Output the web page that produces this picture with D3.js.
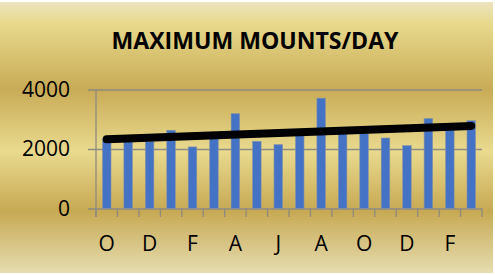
<!DOCTYPE html>
<html lang="en">
  <head>
    <meta charset="utf-8">
    <title>Maximum mounts/day</title>
    <style>
      html, body { margin: 0; padding: 0; background: #fff; }
      svg { display: block; font-family: "Open Sans", sans-serif; }
    </style>
  </head>
  <body>
    <div id="chart"></div>
    <script src="https://d3js.org/d3.v7.min.js"></script>
    <script>
      // data
      var months = ["O", "N", "D", "J", "F", "M", "A", "M", "J", "J", "A", "S", "O", "N", "D", "J", "F", "M"]
      var mounts = [2350, 2300, 2250, 2630, 2070, 2350, 3190, 2260, 2150, 2460, 3710, 2515, 2515, 2370, 2115, 3025, 2700, 2950]
      var yTicks = [0, 2000, 4000]
      var title = "MAXIMUM MOUNTS/DAY"

      var W = 495, H = 275
      var plot = {left: 96, right: 482, top: 89.5, bottom: 208.5}

      var svg = d3.select("#chart")
        .append("svg")
          .attr("width", W)
          .attr("height", H)

      // gold banded background
      var grad = svg.append("defs")
        .append("linearGradient")
          .attr("id", "gold")
          .attr("x1", 0).attr("y1", 0)
          .attr("x2", 0).attr("y2", 1)
      var stops = [
        [0, "#ece4c0"], [0.08, "#e8d98c"], [0.32, "#c8ab56"],
        [0.55, "#e9da8e"], [0.77, "#c7a953"], [1, "#e6dcb0"]
      ]
      stops.forEach(function (s) {
        grad.append("stop").attr("offset", s[0]).attr("stop-color", s[1])
      })
      svg.append("rect")
        .attr("x", 0).attr("y", 2)
        .attr("width", W - 2).attr("height", H - 4)
        .attr("fill", "url(#gold)")

      // scales
      var x = d3.scaleBand()
        .domain(d3.range(months.length))
        .range([plot.left, plot.right])
        .paddingInner(0.6)
        .paddingOuter(0.3)

      var y = d3.scaleLinear()
        .domain([0, 4000])
        .range([plot.bottom, plot.top])

      // gridlines + y labels
      var yAxis = svg.append("g")
        .attr("transform", "translate(88,0)")
        .call(d3.axisLeft(y).tickValues(yTicks).tickFormat(d3.format("d"))
          .tickSize(-(plot.right - 88)).tickPadding(18))
      yAxis.select(".domain").remove()
      yAxis.selectAll("line").attr("stroke", "#8f8a80").attr("stroke-width", 1.3)
      yAxis.selectAll("text")
        .attr("fill", "#000")
        .style("font-size", "21px")
        .style("font-family", "'Open Sans', sans-serif")

      // vertical axis line
      svg.append("line")
        .attr("x1", plot.left).attr("x2", plot.left)
        .attr("y1", y(4000)).attr("y2", plot.bottom + 8.5)
        .attr("stroke", "#8f8a80").attr("stroke-width", 1.3)

      // category tick marks at band boundaries
      var step = x.step()
      svg.append("g")
        .selectAll("line")
        .data(d3.range(months.length + 1))
        .join("line")
          .attr("x1", function (i) { return plot.left + i * step })
          .attr("x2", function (i) { return plot.left + i * step })
          .attr("y1", plot.bottom)
          .attr("y2", plot.bottom + 8.5)
          .attr("stroke", "#8f8a80").attr("stroke-width", 1.3)

      // bars
      svg.append("g")
        .selectAll("rect")
        .data(mounts)
        .join("rect")
          .attr("x", function (d, i) { return x(i) })
          .attr("y", function (d) { return y(d) })
          .attr("width", x.bandwidth())
          .attr("height", function (d) { return y(0) - y(d) })
          .attr("fill", "#4472c4")
          .attr("stroke", "#8a94a4")
          .attr("stroke-width", 0.6)

      // x labels, every other month
      var xAxis = svg.append("g")
        .attr("transform", "translate(0," + plot.bottom + ")")
        .call(d3.axisBottom(x).tickSize(0).tickPadding(27.5)
          .tickFormat(function (i) { return i % 2 === 0 ? months[i] : "" }))
      xAxis.select(".domain").remove()
      xAxis.selectAll("text")
        .attr("fill", "#000")
        .style("font-size", "21px")
        .style("font-family", "'Open Sans', sans-serif")

      // linear trend line (least squares over the bars)
      var n = mounts.length
      var mx = d3.mean(d3.range(n)), my = d3.mean(mounts)
      var slope = d3.sum(mounts, function (d, i) { return (i - mx) * (d - my) }) /
                  d3.sum(d3.range(n), function (i) { return (i - mx) * (i - mx) })
      var trend = function (i) { return my + slope * (i - mx) }
      svg.append("line")
        .attr("x1", x(0) + x.bandwidth() / 2)
        .attr("y1", y(trend(0)))
        .attr("x2", x(n - 1) + x.bandwidth() / 2)
        .attr("y2", y(trend(n - 1)))
        .attr("stroke", "#000")
        .attr("stroke-width", 8)
        .attr("stroke-linecap", "round")

      // title
      svg.append("text")
        .attr("x", 255)
        .attr("y", 48.5)
        .attr("text-anchor", "middle")
        .attr("textLength", 287)
        .attr("lengthAdjust", "spacingAndGlyphs")
        .style("font-size", "23px")
        .style("font-weight", "bold")
        .text(title)
    </script>
  </body>
</html>
